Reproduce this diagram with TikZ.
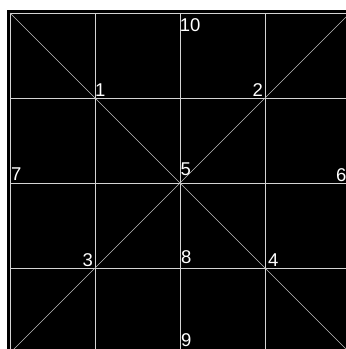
\documentclass[tikz,border=0pt]{standalone}
\usepackage{fontspec}
\setmainfont{Liberation Sans}
\usetikzlibrary{positioning}
\definecolor{gridline}{HTML}{D4D4D4}
\definecolor{diagline}{HTML}{BEBEBE}

\begin{document}
\begin{tikzpicture}[x=1pt, y=-1pt,
    grid/.style={draw=gridline, line width=0.9pt},
    diag/.style={draw=diagline, line width=0.6pt},
    num/.style={text=white, font=\fontsize{18.5}{18.5}\selectfont, inner sep=0pt, anchor=base west}]
  \useasboundingbox (0,0) rectangle (346,349);
  \clip (0,0) rectangle (346,349);
  \fill[white] (0,0) rectangle (346,349);
  \fill[black] (7,10) rectangle (346,349);
  % grid points
  \foreach \i in {0,...,4} {
    \foreach \j in {0,...,4} {
      \coordinate (p\i\j) at ({10+85*\i},{13+85*\j});
    }
  }
  \foreach \i in {0,...,4} {
    \draw[grid] (p\i0) -- (p\i4);
    \draw[grid] (p0\i) -- (p4\i);
  }
  \draw[diag] (p00) -- (p44);
  \draw[diag] (p40) -- (p04);
  % numbers
  \node[num] (n1) at (95,96) {1};
  \node[num] (n2) at (252.3,96) {2};
  \node[num] (n3) at (82.5,266.5) {3};
  \node[num] (n4) at (267.8,266.5) {4};
  \node[num] (n5) at (180.5,175) {5};
  \node[num] (n6) at (336,181) {6};
  \node[num] (n7) at (11,180) {7};
  \node[num] (n8) at (181,263.5) {8};
  \node[num] (n9) at (181,346) {9};
  \node[num] (n10) at (179.7,31) {10};
\end{tikzpicture}
\end{document}
